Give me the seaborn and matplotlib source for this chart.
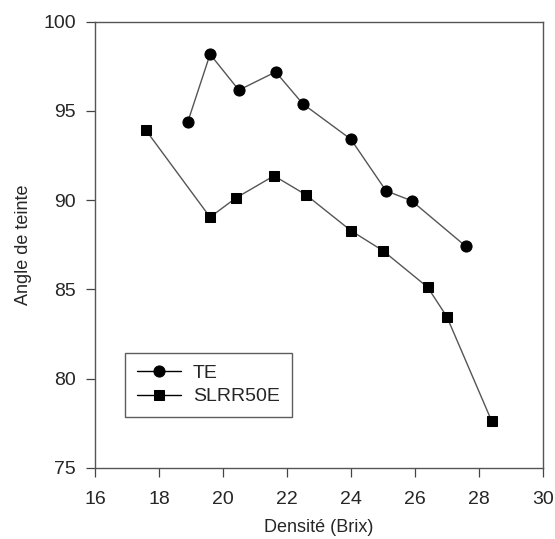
import pandas as pd
import seaborn as sns
import matplotlib.pyplot as plt

# valeurs
te_brix = [18.9, 19.6, 20.5, 21.65, 22.5, 24.0, 25.1, 25.9, 27.6]
te_angle = [94.36, 98.17, 96.16, 97.18, 95.39, 93.41, 90.52, 89.96, 87.4]

slr_brix = [17.6, 19.6, 20.4, 21.6, 22.6, 24.0, 25.0, 26.4, 27.0, 28.4]
slr_angle = [93.9, 89.04, 90.11, 91.36, 90.29, 88.29, 87.17, 85.12, 83.47, 77.63]

xticks = [16, 18, 20, 22, 24, 26, 28, 30]
yticks = [75, 80, 85, 90, 95, 100]

te = pd.DataFrame({'brix': te_brix, 'angle': te_angle})
slr = pd.DataFrame({'brix': slr_brix, 'angle': slr_angle})

sns.set_style('ticks')
plt.rcParams['font.family'] = ['Liberation Sans', 'DejaVu Sans']

fig = plt.figure(figsize=(5.55, 5.39), dpi=100)
ax = fig.add_axes([0.171, 0.132, 0.807, 0.828])

sns.lineplot(data=te, x='brix', y='angle', ax=ax, sort=False, color='#555555',
             linewidth=1, marker='o', markersize=8, markerfacecolor='black',
             markeredgecolor='black', label='TE')
sns.lineplot(data=slr, x='brix', y='angle', ax=ax, sort=False, color='#555555',
             linewidth=1, marker='s', markersize=7.5, markerfacecolor='black',
             markeredgecolor='black', label='SLRR50E')

ax.set_xlim(16, 30)
ax.set_ylim(75, 100)
ax.set_xticks(xticks)
ax.set_yticks(yticks)
ax.tick_params(direction='out', length=6.5, width=0.9, labelsize=14, color='#444444')
ax.tick_params(axis='x', pad=10)
ax.tick_params(axis='y', pad=7)
for s in ax.spines.values():
    s.set_color('#555555')
    s.set_linewidth(1)

ax.set_xlabel('Densité (Brix)', fontsize=13, labelpad=8)
ax.set_ylabel('Angle de teinte', fontsize=13, labelpad=8)

leg = ax.legend(loc='lower left', bbox_to_anchor=(0.067, 0.114), borderaxespad=0,
                fontsize=14, frameon=True, fancybox=False, handlelength=2.3,
                handletextpad=0.6, borderpad=0.6, labelspacing=0.3)
leg.get_frame().set_edgecolor('#333333')
leg.get_frame().set_linewidth(1)
for h in leg.get_lines():
    h.set_color('black')

fig.savefig('out.png', dpi=100)
